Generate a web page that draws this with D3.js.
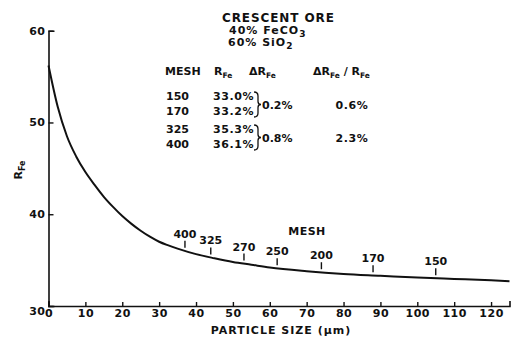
<!DOCTYPE html>
<html>
<head>
<meta charset="utf-8">
<script src="https://cdn.jsdelivr.net/npm/d3@7"></script>
<style>
  html, body { margin: 0; padding: 0; background: #fff; }
  svg { display: block; }
  text { font-family: "DejaVu Sans", sans-serif; font-weight: bold; fill: #111; }
</style>
</head>
<body>
<svg id="chart" width="512" height="339"></svg>
<script>
// Recovery of iron (R_Fe, %) versus particle size (µm)
const sizeUm = [0, 2.5, 5, 7.5, 10, 12.5, 15, 17.5, 20, 22.5, 25, 27.5, 30, 32.5, 35, 40, 45, 50, 55, 60, 70, 80, 90, 100, 110, 120, 125];
const recovery = [56.2, 51.7, 48.5, 46.3, 44.6, 43.2, 41.9, 40.8, 39.8, 38.95, 38.2, 37.55, 37.0, 36.6, 36.25, 35.65, 35.2, 34.8, 34.5, 34.2, 33.8, 33.5, 33.3, 33.1, 32.95, 32.8, 32.7];

// Screen mesh sizes marked along the curve
const meshLabels = ["400", "325", "270", "250", "200", "170", "150"];
const meshSizes = [37, 44, 53, 62, 74, 88, 105];

// Axis ticks
const xTicks = [0, 10, 20, 30, 40, 50, 60, 70, 80, 90, 100, 110, 120];
const yTicks = [30, 40, 50, 60];

// Inset table
const tableMesh = ["150", "170", "325", "400"];
const tableR = ["33.0%", "33.2%", "35.3%", "36.1%"];
const tableDelta = ["0.2%", "0.8%"];
const tableRatio = ["0.6%", "2.3%"];

const svg = d3.select("#chart");
const x = d3.scaleLinear().domain([0, 125]).range([48.5, 509.5]);
const y = d3.scaleLinear().domain([30, 60]).range([306, 30.7]);

// Axes
const xAxis = svg.append("g")
  .attr("transform", `translate(0,${y(30)})`)
  .call(d3.axisBottom(x).tickValues(xTicks).tickSizeInner(-4).tickSizeOuter(-5).tickPadding(3));
const yAxis = svg.append("g")
  .attr("transform", `translate(${x(0)},0)`)
  .call(d3.axisLeft(y).tickValues(yTicks).tickSizeInner(-5).tickSizeOuter(-6).tickPadding(3));

[xAxis, yAxis].forEach(g => {
  g.select(".domain").attr("stroke", "#111").attr("stroke-width", 1.6);
  g.selectAll(".tick line").attr("stroke", "#111").attr("stroke-width", 1.4);
  g.selectAll(".tick text").attr("font-family", "DejaVu Sans").attr("font-weight", "bold")
    .attr("font-size", 11).attr("fill", "#111").style("letter-spacing", "0.5px");
});
yAxis.selectAll(".tick text").filter(d => d === 30).attr("dy", "0.75em");

// Axis titles
svg.append("text")
  .attr("x", 281).attr("y", 334)
  .attr("text-anchor", "middle").attr("font-size", 11)
  .style("letter-spacing", "1px")
  .text("PARTICLE SIZE (\u03bcm)");

const yTitle = svg.append("text")
  .attr("transform", "translate(22,170) rotate(-90)")
  .attr("text-anchor", "middle").attr("font-size", 11);
yTitle.append("tspan").text("R");
yTitle.append("tspan").attr("font-size", 8).attr("dy", 3).text("Fe");

// Recovery curve
const line = d3.line()
  .x((d, i) => x(sizeUm[i]))
  .y(d => y(d))
  .curve(d3.curveMonotoneX);
svg.append("path")
  .datum(recovery)
  .attr("fill", "none").attr("stroke", "#111").attr("stroke-width", 2)
  .attr("d", line);

// Mesh markers above the curve
const interp = s => {
  const i = d3.bisectRight(sizeUm, s) - 1;
  const t = (s - sizeUm[i]) / (sizeUm[i + 1] - sizeUm[i]);
  return recovery[i] + t * (recovery[i + 1] - recovery[i]);
};
const marks = svg.append("g");
meshSizes.forEach((s, i) => {
  const cx = x(s), cy = y(interp(s));
  marks.append("line")
    .attr("x1", cx).attr("x2", cx).attr("y1", cy - 3).attr("y2", cy - 10)
    .attr("stroke", "#111").attr("stroke-width", 1.4);
  marks.append("text")
    .attr("x", cx).attr("y", cy - 13)
    .attr("text-anchor", "middle").attr("font-size", 11)
    .text(meshLabels[i]);
});
svg.append("text")
  .attr("x", 307).attr("y", 235)
  .attr("text-anchor", "middle").attr("font-size", 11)
  .style("letter-spacing", "0.5px")
  .text("MESH");

// Header
svg.append("text").attr("x", 222).attr("y", 22).attr("font-size", 12)
  .style("letter-spacing", "0.9px").text("CRESCENT ORE");
const l2 = svg.append("text").attr("x", 229).attr("y", 34).attr("font-size", 11)
  .style("letter-spacing", "1px");
l2.append("tspan").text("40% FeCO");
l2.append("tspan").attr("font-size", 9).attr("dy", 3).text("3");
const l3 = svg.append("text").attr("x", 228).attr("y", 46).attr("font-size", 11)
  .style("letter-spacing", "1px");
l3.append("tspan").text("60% SiO");
l3.append("tspan").attr("font-size", 9).attr("dy", 3).text("2");

// Table header
const sub = (t, main, s) => {
  t.append("tspan").text(main);
  t.append("tspan").attr("font-size", 7.5).attr("dy", 2.5).text(s);
};
svg.append("text").attr("x", 165).attr("y", 75).attr("font-size", 11).text("MESH");
sub(svg.append("text").attr("x", 214).attr("y", 75).attr("font-size", 11), "R", "Fe");
sub(svg.append("text").attr("x", 249).attr("y", 75).attr("font-size", 11), "\u0394R", "Fe");
{
  const t = svg.append("text").attr("x", 313).attr("y", 75).attr("font-size", 11);
  t.append("tspan").text("\u0394R");
  t.append("tspan").attr("font-size", 7.5).attr("dy", 2.5).text("Fe");
  t.append("tspan").attr("dy", -2.5).text(" / R");
  t.append("tspan").attr("font-size", 7.5).attr("dy", 2.5).text("Fe");
}

// Table rows
const rowY = [100, 115, 133, 148];
tableMesh.forEach((m, i) => {
  svg.append("text").attr("x", 166).attr("y", rowY[i]).attr("font-size", 11).text(m);
  svg.append("text").attr("x", 213).attr("y", rowY[i]).attr("font-size", 11)
    .style("letter-spacing", "0.6px").text(tableR[i]);
});

// Braces and differences for each pair of rows
[0, 1].forEach(k => {
  const top = rowY[2 * k] - 8, bot = rowY[2 * k + 1] + 2, mid = (top + bot) / 2;
  const bx = 254;
  svg.append("path")
    .attr("d", `M${bx},${top} Q${bx + 4},${top} ${bx + 4},${top + 4} L${bx + 4},${mid - 3} Q${bx + 4},${mid} ${bx + 7},${mid} Q${bx + 4},${mid} ${bx + 4},${mid + 3} L${bx + 4},${bot - 4} Q${bx + 4},${bot} ${bx},${bot}`)
    .attr("fill", "none").attr("stroke", "#111").attr("stroke-width", 1.3);
  svg.append("text").attr("x", bx + 8).attr("y", mid + 4).attr("font-size", 11).text(tableDelta[k]);
  svg.append("text").attr("x", 352).attr("y", mid + 4).attr("text-anchor", "middle")
    .attr("font-size", 11).style("letter-spacing", "0.6px").text(tableRatio[k]);
});
</script>
</body>
</html>
